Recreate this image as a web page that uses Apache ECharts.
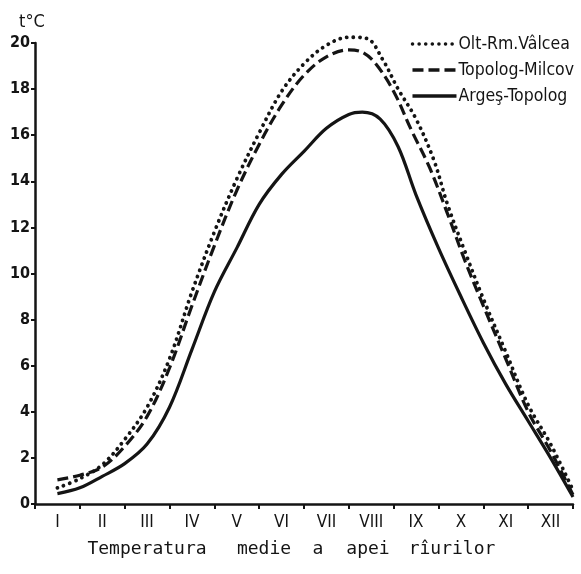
<!DOCTYPE html>
<html>
<head>
<meta charset="utf-8">
<script src="https://cdn.jsdelivr.net/npm/echarts@6/dist/echarts.min.js"></script>
<style>
  html, body { margin: 0; padding: 0; background: #ffffff; }
  #chart { width: 581px; height: 574px; }
</style>
</head>
<body>
<div id="chart"></div>
<script>
// Month labels (roman numerals)
const months = ['I', 'II', 'III', 'IV', 'V', 'VI', 'VII', 'VIII', 'IX', 'X', 'XI', 'XII'];
const yTicks = [0, 2, 4, 6, 8, 10, 12, 14, 16, 18, 20];

// Olt - Rm.Vâlcea (dotted)
const oltX = [0.5, 1.0, 1.5, 2.0, 2.5, 3.0, 3.5, 4.0, 4.5, 5.0, 5.5, 6.0, 6.5, 7.0, 7.4, 7.75, 8.1, 8.5, 8.9, 9.2, 9.6, 10.0, 10.5, 11.0, 11.5, 12.0];
const oltY = [0.7, 1.1, 1.7, 2.8, 4.2, 6.3, 9.2, 11.8, 14.1, 16.1, 17.9, 19.1, 19.9, 20.25, 20.2, 19.3, 18.0, 16.7, 14.9, 13.0, 10.9, 8.9, 6.6, 4.3, 2.6, 0.6];

// Topolog - Milcov (dashed)
const topX = [0.5, 1.0, 1.5, 2.0, 2.5, 3.0, 3.5, 4.0, 4.5, 5.0, 5.5, 6.0, 6.5, 7.0, 7.3, 7.6, 8.0, 8.4, 8.8, 9.2, 9.6, 10.0, 10.5, 11.0, 11.5, 12.0];
const topY = [1.05, 1.25, 1.6, 2.5, 3.8, 5.9, 8.6, 11.2, 13.6, 15.6, 17.3, 18.6, 19.4, 19.7, 19.6, 19.1, 17.9, 16.2, 14.6, 12.6, 10.5, 8.6, 6.3, 4.0, 2.3, 0.4];

// Argeş - Topolog (solid)
const argX = [0.5, 1.0, 1.5, 2.0, 2.5, 3.0, 3.5, 4.0, 4.5, 5.0, 5.5, 6.0, 6.5, 7.0, 7.3, 7.7, 8.1, 8.5, 9.0, 9.5, 10.0, 10.5, 11.0, 11.5, 12.0];
const argY = [0.45, 0.7, 1.2, 1.75, 2.6, 4.2, 6.7, 9.2, 11.1, 13.0, 14.3, 15.3, 16.3, 16.9, 17.0, 16.7, 15.5, 13.4, 11.1, 9.0, 7.0, 5.2, 3.6, 2.0, 0.3];

const seriesNames = ['Olt-Rm.Vâlcea', 'Topolog-Milcov', 'Argeş-Topolog'];
const titleWords = ['Temperatura', 'medie', 'a', 'apei', 'rîurilor'];

function pairs(xs, ys) { return xs.map((x, i) => [x, ys[i]]); }

const ink = '#141414';
const chart = echarts.init(document.getElementById('chart'), null, { renderer: 'canvas' });

const wordX = [147, 264, 318, 368, 452];
const fontC = '"DejaVu Sans Condensed", "DejaVu Sans", sans-serif';

chart.setOption({
  backgroundColor: '#ffffff',
  animation: false,
  grid: { left: 35, right: 8, top: 43, bottom: 70 },
  legend: {
    orient: 'vertical',
    right: 2,
    top: 30,
    itemWidth: 44,
    itemHeight: 12,
    itemGap: 8,
    data: seriesNames,
    itemStyle: { opacity: 0 },
    lineStyle: { width: 3.5 },
    textStyle: { fontFamily: fontC, fontSize: 17.5, color: ink, padding: [0, 0, 0, -3] }
  },
  xAxis: [
    {
      type: 'category',
      data: months,
      boundaryGap: true,
      axisLine: { lineStyle: { color: ink, width: 2.5 } },
      axisTick: { show: true, length: 5, lineStyle: { color: ink, width: 2 } },
      axisLabel: { color: ink, fontFamily: fontC, fontSize: 17, margin: 10 },
      splitLine: { show: false }
    },
    {
      type: 'value', min: 0, max: 12, show: false, position: 'bottom'
    }
  ],
  yAxis: {
    type: 'value',
    min: 0, max: 20, interval: 2,
    name: 't°C',
    nameLocation: 'end',
    nameGap: 12,
    nameTextStyle: { color: ink, fontFamily: fontC, fontSize: 18, align: 'center', padding: [0, 0, 0, -6] },
    axisLine: { show: true, lineStyle: { color: ink, width: 2.5 } },
    axisTick: { show: true, length: 4, lineStyle: { color: ink, width: 2 } },
    axisLabel: { color: ink, fontFamily: fontC, fontWeight: 'bold', fontSize: 16, margin: 5 },
    splitLine: { show: false }
  },
  graphic: titleWords.map((w, i) => ({
    type: 'text', x: wordX[i], y: 549,
    style: { text: w, fill: ink, font: '18px "DejaVu Sans Mono"', textAlign: 'center', textVerticalAlign: 'middle' }
  })),
  series: [
    {
      name: seriesNames[0], type: 'line', xAxisIndex: 1, smooth: 0.35, symbol: 'none', clip: false,
      data: pairs(oltX, oltY),
      lineStyle: { color: ink, width: 3.8, type: [0.1, 6.5], cap: 'round' },
      itemStyle: { color: ink }
    },
    {
      name: seriesNames[1], type: 'line', xAxisIndex: 1, smooth: 0.35, symbol: 'none', clip: false,
      data: pairs(topX, topY),
      lineStyle: { color: ink, width: 3.2, type: [11, 5], cap: 'butt' },
      itemStyle: { color: ink }
    },
    {
      name: seriesNames[2], type: 'line', xAxisIndex: 1, smooth: 0.35, symbol: 'none', clip: false,
      data: pairs(argX, argY),
      lineStyle: { color: ink, width: 3.2, type: 'solid' },
      itemStyle: { color: ink }
    }
  ]
});
</script>
</body>
</html>
